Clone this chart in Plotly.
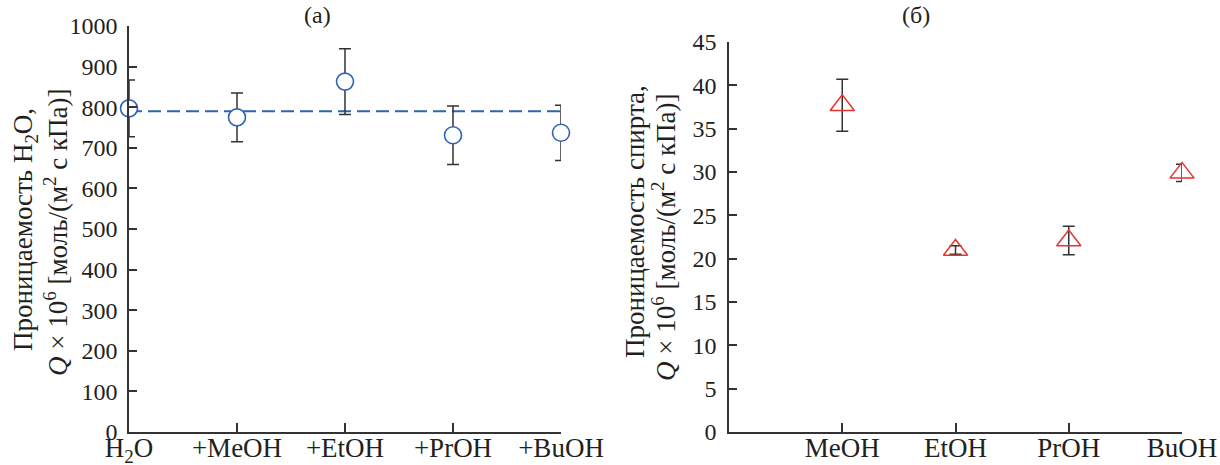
import plotly.graph_objects as go

# ---- data ----
water_cats = ["H<sub>2</sub>O", "+MeOH", "+EtOH", "+PrOH", "+BuOH"]
water_q = [797, 775, 863, 731, 737]
water_err = [70, 60, 81, 72, 68]
water_mean = 790

alc_cats = ["MeOH", "EtOH", "PrOH", "BuOH"]
alc_q = [37.7, 21.0, 22.1, 29.9]
alc_err = [3.0, 0.5, 1.65, 1.0]

left_yticks = list(range(0, 1001, 100))
right_yticks = list(range(0, 46, 5))

FONT = "Liberation Serif"
INK = "#231f20"
AX = "#333333"
BLUE = "#2f63b8"
RED = "#e8332f"

W, H = 1220, 465
def fx(px):
    return px / W
def fy(py):
    return (H - py) / H

xl = list(range(len(water_cats)))
xr = list(range(1, len(alc_cats) + 1))

fig = go.Figure()

# dashed mean line (left)
fig.add_trace(go.Scatter(
    x=[xl[0], xl[-1]], y=[water_mean, water_mean], mode="lines",
    line=dict(color=BLUE, width=2, dash="13px,6px"),
    xaxis="x", yaxis="y", showlegend=False, hoverinfo="skip"))

fig.add_trace(go.Scatter(
    x=xl, y=water_q, mode="markers",
    marker=dict(symbol="circle", size=17, color="white",
                line=dict(color=BLUE, width=1.6)),
    error_y=dict(type="data", array=water_err, visible=True,
                 color=AX, thickness=1.5, width=6),
    xaxis="x", yaxis="y", showlegend=False, cliponaxis=False))

fig.add_trace(go.Scatter(
    x=xr, y=alc_q, mode="markers",
    marker=dict(symbol="triangle-up-open", size=21, color=RED,
                line=dict(color=RED, width=1.5)),
    error_y=dict(type="data", array=alc_err, visible=True,
                 color=AX, thickness=1.5, width=6),
    xaxis="x2", yaxis="y2", showlegend=False, cliponaxis=False))

axis_common = dict(showline=True, linecolor=AX, linewidth=1.5, mirror=False,
                   showgrid=False, zeroline=False, ticks="inside",
                   tickcolor=AX, tickwidth=1.5, automargin=False)

fig.update_layout(
    width=W, height=H,
    margin=dict(l=0, r=0, t=0, b=0, autoexpand=False),
    paper_bgcolor="white", plot_bgcolor="white",
    font=dict(family=FONT, color=INK),
    xaxis=dict(domain=[fx(129), fx(561)], range=[0, 4], anchor="y",
               tickvals=xl, ticktext=water_cats, ticklen=9,
               tickfont=dict(size=27), ticklabelstandoff=-9, **axis_common),
    yaxis=dict(domain=[fy(432), fy(26)], range=[0, 1000], anchor="x",
               tickvals=left_yticks, ticklen=8,
               tickfont=dict(size=24), ticklabelstandoff=5, **axis_common),
    xaxis2=dict(domain=[fx(729), fx(1182)], range=[0, 4], anchor="y2",
                tickvals=xr, ticktext=alc_cats, ticklen=9,
                tickfont=dict(size=27), ticklabelstandoff=-9, **axis_common),
    yaxis2=dict(domain=[fy(432), fy(42)], range=[0, 45], anchor="x2",
                tickvals=right_yticks, ticklen=8,
                tickfont=dict(size=24), ticklabelstandoff=6, **axis_common),
)

ann = [
    dict(text="(а)", x=fx(317), y=fy(15), size=24, angle=0),
    dict(text="(б)", x=fx(916), y=fy(15), size=24, angle=0),
    dict(text="Проницаемость H<sub>2</sub>O,", x=fx(25), y=fy(230), size=27, angle=-90),
    dict(text="<i>Q</i> × 10<sup>6</sup> [моль/(м<sup>2</sup> с кПа)]", x=fx(56), y=fy(232), size=27, angle=-90),
    dict(text="Проницаемость спирта,", x=fx(635), y=fy(222), size=27, angle=-90),
    dict(text="<i>Q</i> × 10<sup>6</sup> [моль/(м<sup>2</sup> с кПа)]", x=fx(664), y=fy(237), size=27, angle=-90),
]
fig.update_layout(annotations=[
    dict(text=a["text"], x=a["x"], y=a["y"], xref="paper", yref="paper",
         xanchor="center", yanchor="middle", showarrow=False,
         textangle=a["angle"], font=dict(family=FONT, size=a["size"], color=INK))
    for a in ann])

fig.write_html("out.html")
